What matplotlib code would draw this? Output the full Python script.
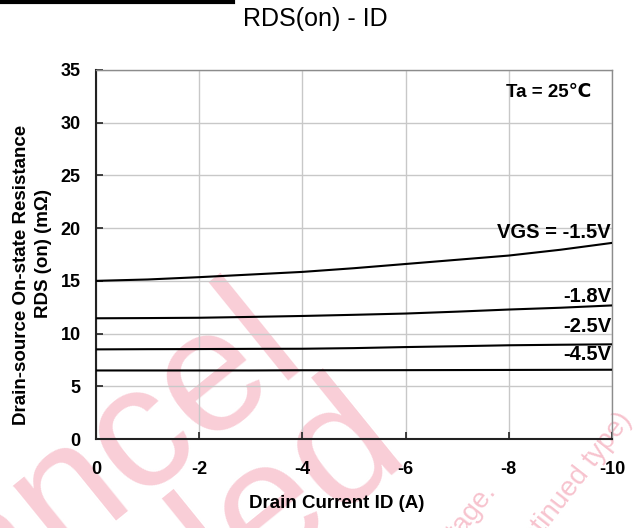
import matplotlib
matplotlib.use('Agg')
import matplotlib.pyplot as plt
from matplotlib.lines import Line2D

plt.rcParams['font.family'] = ['Liberation Sans', 'DejaVu Sans']
plt.rcParams['axes.unicode_minus'] = False

# -- Data --------------------------------------------------------------------
drain_current = [0, -1, -2, -3, -4, -5, -6, -7, -8, -9, -10]
rds_vgs_1v5 = [15.0, 15.13, 15.35, 15.6, 15.85, 16.2, 16.6, 17.0, 17.4, 17.95, 18.6]
rds_vgs_1v8 = [11.45, 11.47, 11.5, 11.58, 11.67, 11.78, 11.9, 12.08, 12.28, 12.45, 12.67]
rds_vgs_2v5 = [8.5, 8.52, 8.53, 8.55, 8.56, 8.62, 8.72, 8.8, 8.89, 8.94, 8.98]
rds_vgs_4v5 = [6.5, 6.5, 6.5, 6.5, 6.52, 6.52, 6.53, 6.54, 6.55, 6.56, 6.57]
curve_labels = ['VGS = -1.5V', '-1.8V', '-2.5V', '-4.5V']
x_ticks = [0, -2, -4, -6, -8, -10]
y_ticks = [0, 5, 10, 15, 20, 25, 30, 35]

W, H = 635, 528
fig = plt.figure(figsize=(W / 100, H / 100), dpi=100)
ax = fig.add_axes([96 / W, 1 - 439 / H, (612 - 96) / W, (439 - 70) / H])
ax.set_facecolor('none')

# -- watermark behind the plot -----------------------------------------------
pink = '#f9ced7'
fig.text(308 / W, 1 - 358 / H, 'Cancel', fontsize=125, color=pink,
         rotation=39, rotation_mode='anchor', ha='right', va='baseline', zorder=-2)
fig.text(410 / W, 1 - 452 / H, 'led', fontsize=125, color=pink,
         rotation=39, rotation_mode='anchor', ha='right', va='baseline', zorder=-2)
fig.text(497 / W, 1 - 492 / H, 'This product is in the end of life stage.',
         fontsize=20, color='#f7c3ce', rotation=52, rotation_mode='anchor',
         ha='right', va='baseline', zorder=-2)
fig.text(632 / W, 1 - 420 / H, '(discontinued type)',
         fontsize=20, color='#f7c3ce', rotation=52, rotation_mode='anchor',
         ha='right', va='baseline', zorder=-2)

# cut-off heading from the page above
fig.add_artist(Line2D([0, 233 / W], [1 - 2 / H, 1 - 2 / H], color='black', lw=3))

# -- curves ------------------------------------------------------------------
for ys in (rds_vgs_1v5, rds_vgs_1v8, rds_vgs_2v5, rds_vgs_4v5):
    ax.plot(drain_current, ys, color='black', lw=1.5, zorder=3)

ax.set_xlim(0, -10)
ax.set_ylim(0, 35)
ax.set_xticks(x_ticks)
ax.set_yticks(y_ticks)
ax.set_xticklabels([f'{v}' for v in x_ticks])
ax.grid(True, color='#c8c8c8', lw=1)
ax.set_axisbelow(True)
ax.tick_params(direction='in', length=5, width=1.2, color='#222222',
               labelsize=13)
ax.tick_params(axis='x', pad=16)
ax.tick_params(axis='y', pad=11)
for lab in ax.get_xticklabels() + ax.get_yticklabels():
    lab.set_fontweight('bold')
for side in ('top', 'right'):
    ax.spines[side].set_color('#8c8c8c')
    ax.spines[side].set_linewidth(1)
for side in ('left', 'bottom'):
    ax.spines[side].set_color('#222222')
    ax.spines[side].set_linewidth(1.5)

# -- texts -------------------------------------------------------------------
fig.text(315 / W, 1 - 19 / H, 'RDS(on) - ID', fontsize=18, ha='center', va='center')
fig.text(337 / W, 1 - 503 / H, 'Drain Current ID (A)', fontsize=13.5,
         fontweight='bold', ha='center', va='center')
fig.text(22 / W, 1 - 275 / H, 'Drain-source On-state Resistance', fontsize=13.5,
         fontweight='bold', rotation=90, ha='center', va='center')
fig.text(43 / W, 1 - 254 / H, 'RDS (on) (m\u03a9)', fontsize=13.5,
         fontweight='bold', rotation=90, ha='center', va='center')
fig.text(591 / W, 1 - 92 / H, 'Ta = 25\u2103', fontsize=13.5, fontweight='bold',
         ha='right', va='center')

label_y = [233, 297, 326, 354]
for txt, yp in zip(curve_labels, label_y):
    fig.text(611 / W, 1 - yp / H, txt, fontsize=14.5, fontweight='bold',
             ha='right', va='center')

fig.savefig('out.png', dpi=100)
